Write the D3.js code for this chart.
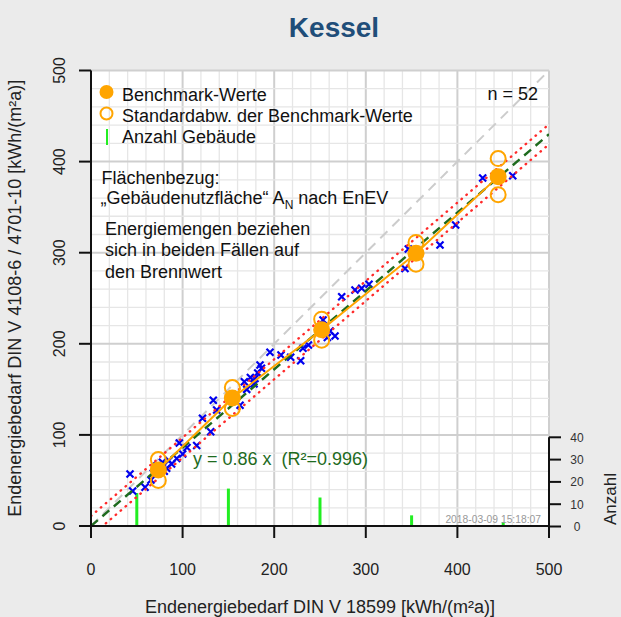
<!DOCTYPE html>
<html>
<head>
<meta charset="utf-8">
<script src="https://cdn.jsdelivr.net/npm/d3@7"></script>
<style>
  body { margin: 0; background: #ebebeb; }
  svg { display: block; font-family: "Liberation Sans", Arial, sans-serif; }
</style>
</head>
<body>
<svg id="chart" width="621" height="617"></svg>
<script>
// Gebaeude: Endenergiebedarf DIN V 18599 (x) gegen DIN V 4108-6 / 4701-10 (y)
var gebX = [42.6, 45.5, 59.0, 65.5, 82.6, 93.6, 96.4, 68, 72, 75, 78, 80, 85, 88, 76,
            100.1, 104.8, 115.4, 121.7, 130.7, 133.5, 137.2, 162.7, 167.4, 184.5, 186.1, 195.4, 170, 174, 178, 182, 179,
            207.4, 218.0, 228.9, 231.4, 237.4, 253.3, 266.4, 273.7, 288.2, 295.5, 255, 258, 261,
            303.5, 342.8, 346.4, 381.0, 398.1,
            427.6, 460.4];
var gebY = [57.1, 38.4, 42.5, 50.5, 63.3, 74.1, 91.1, 58, 66, 61, 70, 60, 72, 68, 61,
            79.0, 86.2, 88.4, 118.2, 103.5, 138.0, 127.3, 132.6, 158.4, 176.7, 173.1, 190.7, 150, 163, 156, 168, 162,
            187.7, 185.2, 181.4, 195.1, 198.7, 226.1, 208.6, 251.7, 259.1, 260.9, 212, 207, 214,
            265.3, 282.7, 304.1, 308.5, 330.4,
            382.0, 384.5];

// Benchmark-Werte je Klasse
var benchX = [73.5, 154.3, 251.8, 354.8, 444.5];
var benchY = [61.5, 140.5, 215.5, 299.3, 383.5];
var benchSD = [11.5, 11.5, 11.5, 12, 19.8];

// Anzahl Gebaeude je Klasse
var klasseMitte = [50, 150, 250, 350, 450];
var anzahl = [15, 17, 13, 5, 2];

var steigung = 0.86;
var band = 11;

var achsTicks = [0, 100, 200, 300, 400, 500];
var gitterMinor = d3.range(0, 501, 20);
var anzahlTicks = [0, 10, 20, 30, 40];

var svg = d3.select("#chart");

var x = d3.scaleLinear().domain([0, 500]).range([91, 549]);
var y = d3.scaleLinear().domain([0, 500]).range([526, 70.5]);
var y2 = d3.scaleLinear().domain([0, 40]).range([526.5, 437.3]);

// plot background
svg.append("rect")
    .attr("x", x(0)).attr("y", y(500))
    .attr("width", x(500) - x(0)).attr("height", y(0) - y(500))
    .attr("fill", "#fff");

// grid
var grid = svg.append("g").attr("class", "grid");
grid.selectAll(".gv").data(gitterMinor).enter().append("line")
    .attr("x1", function (d) { return x(d); }).attr("x2", function (d) { return x(d); })
    .attr("y1", y(0)).attr("y2", y(500))
    .attr("stroke", function (d) { return d % 100 == 0 ? "#cfcfcf" : "#e6e6e6"; })
    .attr("stroke-width", function (d) { return d % 100 == 0 ? 2 : 1.3; });
grid.selectAll(".gh").data(gitterMinor).enter().append("line")
    .attr("y1", function (d) { return y(d); }).attr("y2", function (d) { return y(d); })
    .attr("x1", x(0)).attr("x2", x(500))
    .attr("stroke", function (d) { return d % 100 == 0 ? "#cfcfcf" : "#e6e6e6"; })
    .attr("stroke-width", function (d) { return d % 100 == 0 ? 2 : 1.3; });

var clip = svg.append("clipPath").attr("id", "plotclip")
    .append("rect")
    .attr("x", x(0)).attr("y", y(500))
    .attr("width", x(500) - x(0)).attr("height", y(0) - y(500));

var plot = svg.append("g").attr("clip-path", "url(#plotclip)");

// Winkelhalbierende
plot.append("line")
    .attr("x1", x(0)).attr("y1", y(0)).attr("x2", x(500)).attr("y2", y(500))
    .attr("stroke", "#cccccc").attr("stroke-width", 2)
    .attr("stroke-dasharray", "10,7");

// Anzahl Gebaeude
plot.selectAll(".anz").data(anzahl).enter().append("line")
    .attr("x1", function (d, i) { return x(klasseMitte[i]); })
    .attr("x2", function (d, i) { return x(klasseMitte[i]); })
    .attr("y1", y2(0))
    .attr("y2", function (d) { return y2(d); })
    .attr("stroke", "#22ee22").attr("stroke-width", 3);

// Gebaeude-Punkte
var kreuz = 3.5;
var pts = plot.selectAll(".pt").data(gebX).enter().append("g")
    .attr("transform", function (d, i) { return "translate(" + x(d) + "," + y(gebY[i]) + ")"; });
pts.append("path")
    .attr("d", "M" + (-kreuz) + "," + (-kreuz) + "L" + kreuz + "," + kreuz +
               "M" + (-kreuz) + "," + kreuz + "L" + kreuz + "," + (-kreuz))
    .attr("stroke", "#0000ee").attr("stroke-width", 2.2).attr("fill", "none");

// Regression und Band
var regLine = d3.line()
    .x(function (d) { return x(d[0]); })
    .y(function (d) { return y(d[1]); });
[band, -band].forEach(function (b) {
    plot.append("path")
        .attr("d", regLine([[0, b], [500, steigung * 500 + b]]))
        .attr("stroke", "#ff2a2a").attr("stroke-width", 2.4).attr("fill", "none")
        .attr("stroke-linecap", "round")
        .attr("stroke-dasharray", "0.5,6");
});
plot.append("path")
    .attr("d", regLine([[0, 0], [500, steigung * 500]]))
    .attr("stroke", "#1e6b1e").attr("stroke-width", 2.4).attr("fill", "none")
    .attr("stroke-dasharray", "9,6");

// Benchmark-Linie
plot.append("path")
    .attr("d", regLine(benchX.map(function (d, i) { return [d, benchY[i]]; })))
    .attr("stroke", "#ffa500").attr("stroke-width", 2).attr("fill", "none");

// Standardabweichung
benchX.forEach(function (d, i) {
    [1, -1].forEach(function (s) {
        plot.append("circle")
            .attr("cx", x(d)).attr("cy", y(benchY[i] + s * benchSD[i]))
            .attr("r", 7.5)
            .attr("fill", "none").attr("stroke", "#ffa500").attr("stroke-width", 2);
    });
});
plot.selectAll(".bench").data(benchX).enter().append("circle")
    .attr("cx", function (d) { return x(d); })
    .attr("cy", function (d, i) { return y(benchY[i]); })
    .attr("r", 8.5)
    .attr("fill", "#ffa500");

// axes
var axisG = svg.append("g").attr("stroke", "#111").attr("stroke-width", 2);
axisG.append("line").attr("x1", x(0)).attr("x2", x(500)).attr("y1", y(0)).attr("y2", y(0));
axisG.append("line").attr("x1", x(0)).attr("x2", x(0)).attr("y1", y(0)).attr("y2", y(500));
axisG.selectAll(".xt").data(achsTicks).enter().append("line")
    .attr("x1", function (d) { return x(d); }).attr("x2", function (d) { return x(d); })
    .attr("y1", y(0)).attr("y2", y(0) + 12);
axisG.selectAll(".yt").data(achsTicks).enter().append("line")
    .attr("y1", function (d) { return y(d); }).attr("y2", function (d) { return y(d); })
    .attr("x1", x(0)).attr("x2", x(0) - 12);
axisG.append("line").attr("x1", x(500)).attr("x2", x(500)).attr("y1", y2(0)).attr("y2", y2(40));
axisG.selectAll(".y2t").data(anzahlTicks).enter().append("line")
    .attr("y1", function (d) { return y2(d); }).attr("y2", function (d) { return y2(d); })
    .attr("x1", x(500)).attr("x2", x(500) + 12);

svg.selectAll(".xl").data(achsTicks).enter().append("text")
    .attr("x", function (d) { return x(d); }).attr("y", 575)
    .attr("text-anchor", "middle").attr("font-size", 16).attr("fill", "#222")
    .text(function (d) { return d; });
svg.selectAll(".yl").data(achsTicks).enter().append("text")
    .attr("transform", function (d) { return "translate(65," + y(d) + ") rotate(-90)"; })
    .attr("text-anchor", "middle").attr("font-size", 16).attr("fill", "#222")
    .text(function (d) { return d; });
svg.selectAll(".y2l").data(anzahlTicks).enter().append("text")
    .attr("x", 577).attr("y", function (d) { return y2(d) + 4.5; })
    .attr("text-anchor", "middle").attr("font-size", 12).attr("fill", "#333")
    .text(function (d) { return d; });

// titles
svg.append("text")
    .attr("x", 334).attr("y", 37)
    .attr("text-anchor", "middle").attr("font-size", 28).attr("font-weight", "bold")
    .attr("fill", "#1f4e79")
    .text("Kessel");
svg.append("text")
    .attr("x", 320).attr("y", 613)
    .attr("text-anchor", "middle").attr("font-size", 18).attr("fill", "#222")
    .text("Endenergiebedarf DIN V 18599 [kWh/(m²a)]");
svg.append("text")
    .attr("transform", "translate(21," + (y(0) + y(500)) / 2 + ") rotate(-90)")
    .attr("text-anchor", "middle").attr("font-size", 18).attr("fill", "#222")
    .text("Endenergiebedarf DIN V 4108-6 / 4701-10 [kWh/(m²a)]");
// im Original am Rand angeschnitten, hier knapp innerhalb
svg.append("text")
    .attr("transform", "translate(616,499) rotate(-90)")
    .attr("text-anchor", "middle").attr("font-size", 17).attr("fill", "#222")
    .text("Anzahl");

// legend
var leg = svg.append("g").attr("font-size", 18).attr("fill", "#111");
leg.append("circle").attr("cx", 106.5).attr("cy", 92).attr("r", 7).attr("fill", "#ffa500");
leg.append("circle").attr("cx", 106.5).attr("cy", 113.5).attr("r", 6)
    .attr("fill", "none").attr("stroke", "#ffa500").attr("stroke-width", 2);
leg.append("line").attr("x1", 107).attr("x2", 107).attr("y1", 129).attr("y2", 145)
    .attr("stroke", "#22ee22").attr("stroke-width", 2);
leg.append("text").attr("x", 122).attr("y", 100.5).text("Benchmark-Werte");
leg.append("text").attr("x", 122).attr("y", 121.5).text("Standardabw. der Benchmark-Werte");
leg.append("text").attr("x", 122).attr("y", 143).text("Anzahl Gebäude");
leg.append("text").attr("x", 538).attr("y", 99.5).attr("text-anchor", "end").text("n = 52");

// Hinweise
var note = svg.append("g").attr("font-size", 18).attr("fill", "#111");
note.append("text").attr("x", 101.5).attr("y", 183.5).text("Flächenbezug:");
var an = note.append("text").attr("x", 100.5).attr("y", 204);
an.append("tspan").text("„Gebäudenutzfläche“ A");
an.append("tspan").attr("font-size", 12).attr("dy", 5).text("N");
an.append("tspan").attr("dy", -5).text(" nach EnEV");
["Energiemengen beziehen", "sich in beiden Fällen auf", "den Brennwert"].forEach(function (t, i) {
    note.append("text").attr("x", 105).attr("y", 235 + i * 21.3).text(t);
});

// Regressionsgleichung
svg.append("text")
    .attr("x", 193).attr("y", 465)
    .attr("font-size", 18).attr("fill", "#1e6b1e")
    .attr("xml:space", "preserve")
    .text("y = 0.86 x  (R²=0.996)");

// Zeitstempel
svg.append("text")
    .attr("x", 541).attr("y", 523)
    .attr("text-anchor", "end").attr("font-size", 10.3).attr("fill", "#999")
    .text("2018-03-09 15:18:07");
</script>
</body>
</html>
